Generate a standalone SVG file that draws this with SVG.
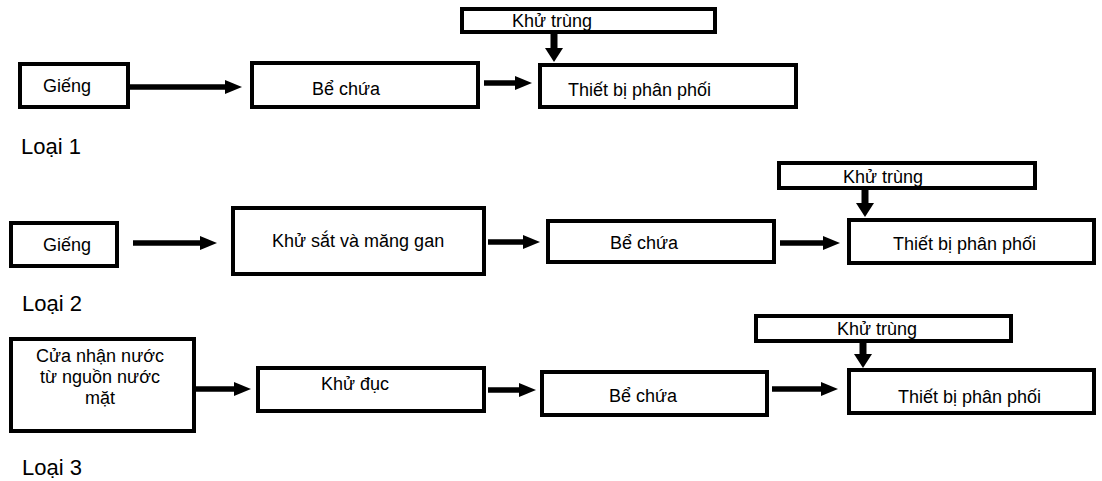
<svg xmlns="http://www.w3.org/2000/svg" width="1102" height="481" viewBox="0 0 1102 481">
<defs>
<style>
.box{fill:#fff;stroke:#000;stroke-width:4}
.t{font-family:"Liberation Sans",Arial,sans-serif;font-size:18px;fill:#000}
.lbl{font-family:"Liberation Sans",Arial,sans-serif;font-size:22px;fill:#000}
.h{stroke:#000;stroke-width:5.5;fill:none;marker-end:url(#ah)}
.v{stroke:#000;stroke-width:7;fill:none;marker-end:url(#av)}
</style>
<marker id="ah" markerUnits="userSpaceOnUse" markerWidth="17" markerHeight="14" refX="0" refY="7" orient="auto" overflow="visible"><path d="M0,0 L17,7 L0,14 z" fill="#000"/></marker>
<marker id="av" markerUnits="userSpaceOnUse" markerWidth="14" markerHeight="18" refX="0" refY="9" orient="auto" overflow="visible"><path d="M0,0 L14,9 L0,18 z" fill="#000"/></marker>
</defs>
<rect width="1102" height="481" fill="#fff"/>
<g id="connectors">
<path class="h" d="M130,87 H225"/>
<path class="h" d="M484,83 H515"/>
<path class="v" d="M554,34 V48"/>
<path class="h" d="M133,243 H200"/>
<path class="h" d="M488,242 H523"/>
<path class="h" d="M780,243 H823"/>
<path class="v" d="M865,190 V203"/>
<path class="h" d="M196,389 H234"/>
<path class="h" d="M488,390 H519"/>
<path class="h" d="M772,389 H821"/>
<path class="v" d="M863,343 V354"/>
</g>
<g id="n-gieng1"><rect class="box" x="20" y="64" width="108" height="43"/><text class="t" x="43" y="92">Giếng</text></g>
<g id="n-bechua1"><rect class="box" x="252" y="63" width="226" height="44"/><text class="t" x="312" y="95">Bể chứa</text></g>
<g id="n-khutrung1"><rect class="box" x="462" y="9" width="253" height="23"/><text class="t" x="512" y="27">Khử trùng</text></g>
<g id="n-thietbi1"><rect class="box" x="540" y="65" width="256" height="42"/><text class="t" x="568" y="96">Thiết bị phân phối</text></g>
<g id="l-loai1"><text class="lbl" x="21" y="154">Loại 1</text></g>
<g id="n-gieng2"><rect class="box" x="11" y="223" width="106" height="43"/><text class="t" x="43" y="251">Giếng</text></g>
<g id="n-khusat"><rect class="box" x="233" y="208" width="251" height="66"/><text class="t" x="272" y="247">Khử sắt và măng gan</text></g>
<g id="n-bechua2"><rect class="box" x="548" y="221" width="226" height="41"/><text class="t" x="610" y="249">Bể chứa</text></g>
<g id="n-khutrung2"><rect class="box" x="779" y="163" width="256" height="25"/><text class="t" x="843" y="183">Khử trùng</text></g>
<g id="n-thietbi2"><rect class="box" x="849" y="220" width="245" height="43"/><text class="t" x="893" y="250">Thiết bị phân phối</text></g>
<g id="l-loai2"><text class="lbl" x="22" y="311">Loại 2</text></g>
<g id="n-cuanhan"><rect class="box" x="11" y="339" width="183" height="92"/><text class="t" text-anchor="middle"><tspan x="100" y="362">Cửa nhận nước</tspan><tspan x="100" y="383">từ nguồn nước</tspan><tspan x="100" y="404">mặt</tspan></text></g>
<g id="n-khuduc"><rect class="box" x="258" y="368" width="226" height="43"/><text class="t" x="321" y="390">Khử đục</text></g>
<g id="n-bechua3"><rect class="box" x="542" y="372" width="225" height="43"/><text class="t" x="609" y="402">Bể chứa</text></g>
<g id="n-khutrung3"><rect class="box" x="756" y="316" width="255" height="25"/><text class="t" x="837" y="335">Khử trùng</text></g>
<g id="n-thietbi3"><rect class="box" x="849" y="370" width="245" height="43"/><text class="t" x="898" y="403">Thiết bị phân phối</text></g>
<g id="l-loai3"><text class="lbl" x="22" y="475">Loại 3</text></g>
</svg>
